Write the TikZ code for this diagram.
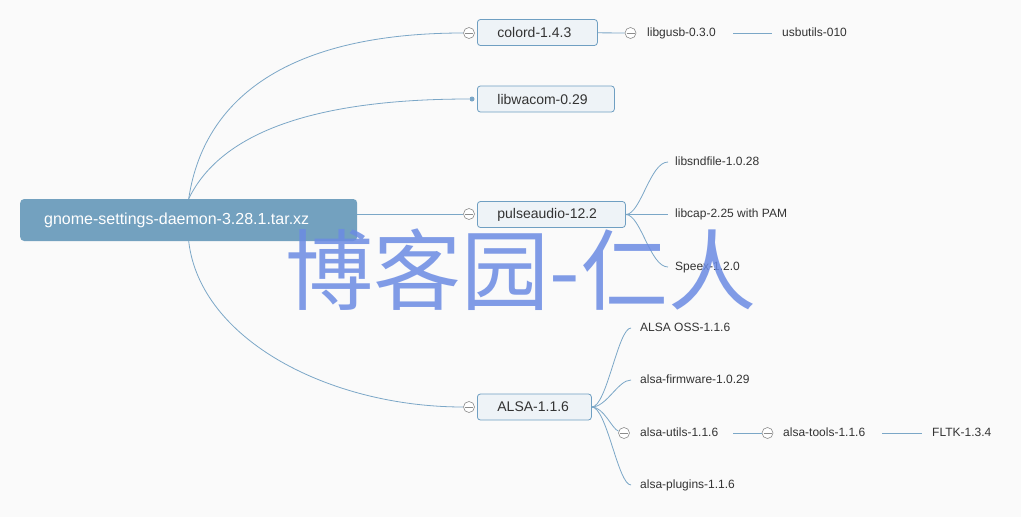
\documentclass[tikz,border=0pt]{standalone}
\usepackage{fontspec}
\setmainfont{Liberation Sans}
\newfontfamily\cjk{Noto Sans CJK SC}
\usepackage{tikz}
\usetikzlibrary{positioning}
\definecolor{bg}{HTML}{FAFAFA}
\definecolor{rootc}{HTML}{73A1BF}
\definecolor{edge}{HTML}{7BA7C7}
\definecolor{boxfill}{HTML}{EEF3F7}
\definecolor{boxline}{HTML}{6F9FC2}
\definecolor{txt}{HTML}{333333}
\definecolor{wmark}{HTML}{6B8BE3}
\tikzset{
  rootbox/.style={fill=rootc,rounded corners=4pt,text=white,font=\fontsize{16}{18}\selectfont,anchor=west,minimum height=42pt,inner xsep=24pt,text width=289pt,align=left},
  topic/.style={draw=boxline,fill=boxfill,rounded corners=3pt,line width=0.8pt,text=txt,font=\fontsize{14}{16}\selectfont,anchor=west,minimum height=26pt,inner xsep=20pt,align=left},
  leaf/.style={text=txt,font=\fontsize{12}{14}\selectfont,anchor=west,inner sep=0pt,text height=9pt,text depth=2.5pt},
  fold/.style={circle,draw=gray!90,fill=white,minimum size=11pt,inner sep=0pt,line width=0.6pt,
    path picture={\draw[gray!90,line width=0.6pt] ([xshift=-4pt]path picture bounding box.center) -- ([xshift=4pt]path picture bounding box.center);}},
  knob/.style={circle,fill=edge,minimum size=5pt,inner sep=0pt},
  link/.style={edge,line width=0.8pt},
}
\begin{document}
\begin{tikzpicture}[x=1pt,y=-1pt]
\fill[bg] (0,0) rectangle (1021,517);
\useasboundingbox (0,0) rectangle (1021,517);
\node[rootbox] (root) at (20,220) {gnome-settings-daemon-3.28.1.tar.xz};
% first level
\node[topic,text width=80pt] (colord) at (477,32.5) {colord-1.4.3};
\node[topic,text width=97pt] (wacom) at (477,99) {libwacom-0.29};
\node[topic,text width=108pt] (pulse) at (477,214.5) {pulseaudio-12.2};
\node[topic,text width=74pt] (alsa) at (477,407) {ALSA-1.1.6};
\node[fold] (cfold) at (469,33) {};
\node[knob] (wdot) at (472,99) {};
\node[fold] (pfold) at (469,214) {};
\node[fold] (afold) at (469,407) {};
\draw[link] (root.north) .. controls (205,90) and (300,33) .. (cfold);
\draw[link] (root.north) .. controls (222,130) and (320,99) .. (wdot);
\draw[link] (root.east |- pfold.west) -- (pfold);
\draw[link] (root.south) .. controls (200,340) and (330,407) .. (afold);
% colord
\node[fold] (gfold) at (630.5,33) {};
\node[leaf] (gusb) at (647,33) {libgusb-0.3.0};
\node[leaf] (usbutils) at (782,33) {usbutils-010};
\draw[link] (colord) -- (gfold);
\draw[link,shorten <=17pt,shorten >=10pt] (gusb) -- (usbutils);
% pulseaudio
\node[leaf] (sndfile) at (675,162) {libsndfile-1.0.28};
\node[leaf] (libcap) at (675,214.5) {libcap-2.25 with PAM};
\node[leaf] (speex) at (675,267) {Speex-1.2.0};
\draw[link,shorten >=7pt] (pulse.east) .. controls +(15,0) and +(-25,0) .. (sndfile.west);
\draw[link,shorten >=7pt] (pulse.east) -- (libcap.west);
\draw[link,shorten >=7pt] (pulse.east) .. controls +(15,0) and +(-25,0) .. (speex.west);
% alsa
\node[leaf] (oss) at (640,328) {ALSA OSS-1.1.6};
\node[leaf] (firmware) at (640,380) {alsa-firmware-1.0.29};
\node[fold] (ufold) at (624,433) {};
\node[leaf] (utils) at (640,433) {alsa-utils-1.1.6};
\node[leaf] (plugins) at (640,485) {alsa-plugins-1.1.6};
\draw[link,shorten >=9pt] (alsa.east) .. controls +(15,0) and +(-22,0) .. (oss.west);
\draw[link,shorten >=9pt] (alsa.east) .. controls +(15,0) and +(-22,0) .. (firmware.west);
\draw[link] (alsa.east) .. controls +(12,0) and +(-12,-4) .. (ufold);
\draw[link,shorten >=9pt] (alsa.east) .. controls +(15,0) and +(-22,0) .. (plugins.west);
\node[fold] (tfold) at (767.5,433) {};
\node[leaf] (tools) at (783,433) {alsa-tools-1.1.6};
\node[leaf] (fltk) at (932,433) {FLTK-1.3.4};
\draw[link,shorten <=15pt] (utils) -- (tfold);
\draw[link,shorten <=17pt,shorten >=10pt] (tools) -- (fltk);
% watermark
\node[text=wmark,text opacity=0.85,font=\cjk\fontsize{88}{94}\selectfont] (mark) at (521,270) {博客园-仁人};
\end{tikzpicture}
\end{document}
